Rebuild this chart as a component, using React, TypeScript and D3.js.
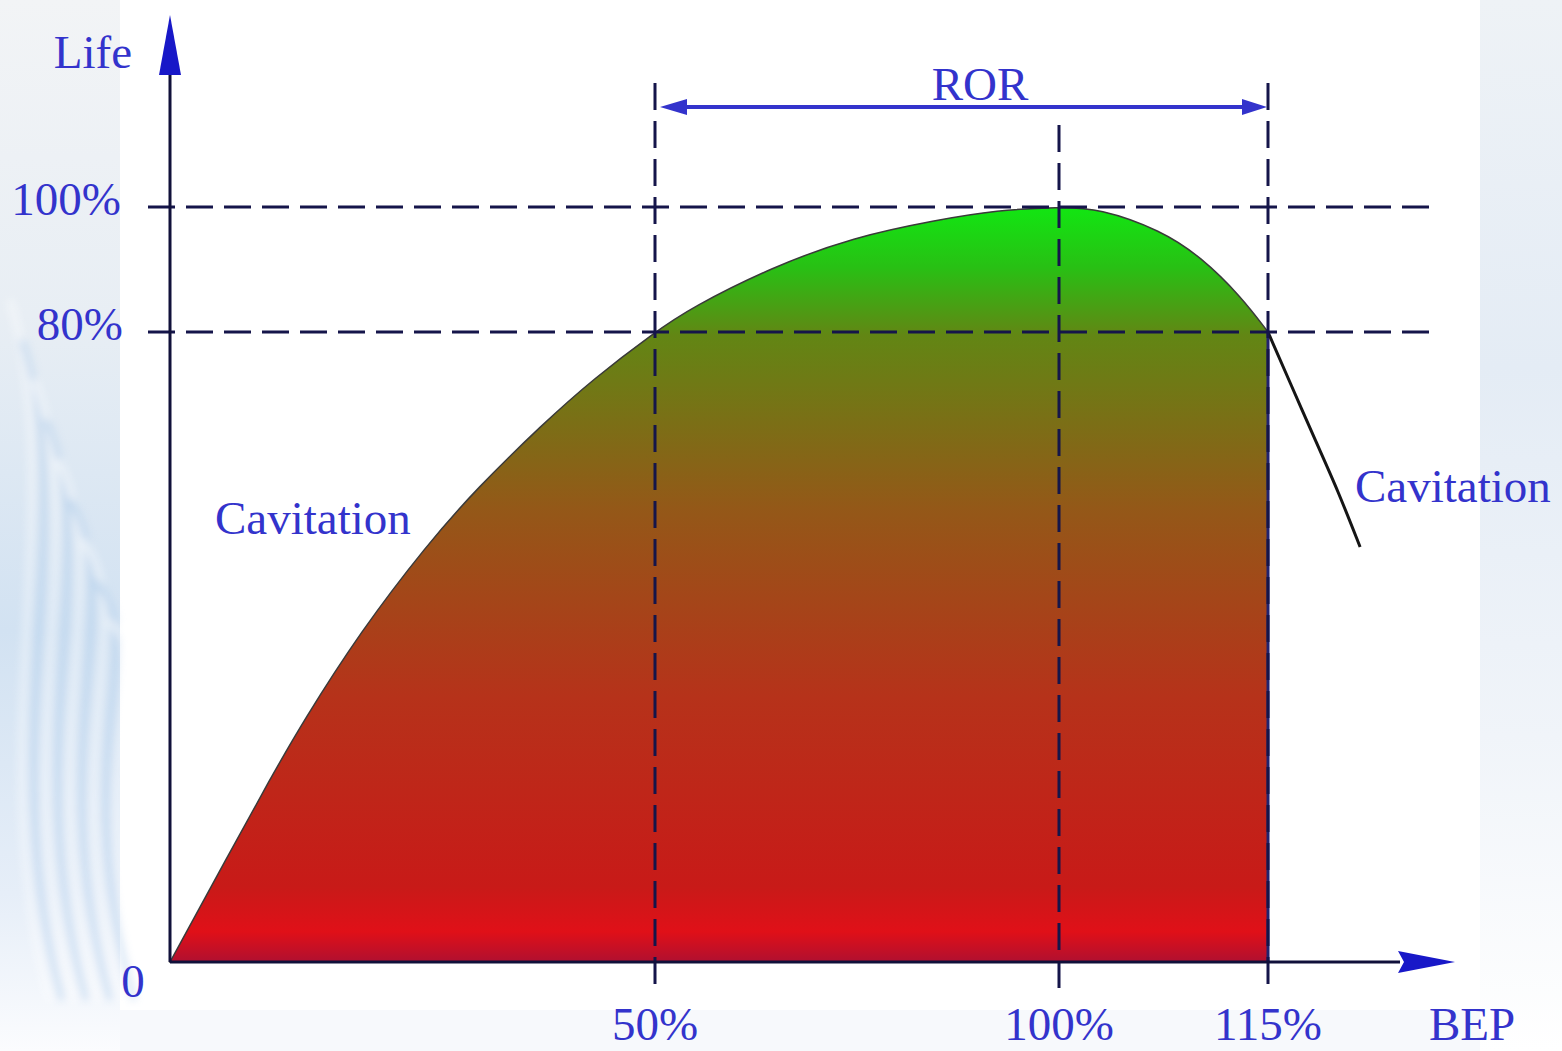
import * as d3 from 'd3'

// curve: BEP (%) vs life (%)
const BEP = [0, 5.9, 10.3, 13.7, 19.6, 26.5, 31.6, 38.5, 43.6, 50, 54.5, 64.5, 74.6, 84.8, 92.3, 100, 102.9, 107.3, 110.2, 113.1, 115]
const LIFE = [0, 13.3, 23.2, 30.5, 41.9, 53.0, 60.1, 68.4, 74.0, 80, 83.9, 90.4, 95.2, 97.9, 99.5, 100, 99.8, 96.3, 92.0, 85.6, 80]
// beyond 115% the curve keeps falling, drawn as a line only
const TAIL_BEP = [115, 116.6, 118.5, 120.0, 121.6]
const TAIL_LIFE = [80, 73.5, 65.8, 59.9, 52.7]

const X_TICKS = [50, 100, 115]
const X_TICK_LABELS = ['50%', '100%', '115%']
const Y_TICKS = [80, 100]
const Y_TICK_LABELS = ['80%', '100%']
const ROR_RANGE = [50, 115]

const W = 1562
const H = 1051
const BLUE = '#3333cc'
const NAVY = '#15154a'
const FONT = '"Liberation Serif", "Times New Roman", serif'

export default function App() {
  // the original axis is not evenly spaced, so both scales are piecewise
  const x = d3.scaleLinear().domain([0, 50, 100, 115, 128.4]).range([170, 655, 1059, 1268, 1455])
  const y = d3.scaleLinear().domain([0, 80, 100, 130.7]).range([962, 332, 207, 15])

  const pts = BEP.map((b, i) => [b, LIFE[i]] as [number, number])
  const tail = TAIL_BEP.map((b, i) => [b, TAIL_LIFE[i]] as [number, number])

  const area = d3
    .area<[number, number]>()
    .x((d) => x(d[0]))
    .y0(y(0))
    .y1((d) => y(d[1]))
    .curve(d3.curveBasis)
  const line = d3
    .line<[number, number]>()
    .x((d) => x(d[0]))
    .y((d) => y(d[1]))
    .curve(d3.curveBasis)

  const x0 = x(0)
  const y0 = y(0)
  const xEnd = x(115)

  const gradStops = [
    [0, '#12e612'],
    [0.08, '#28c014'],
    [0.17, '#628614'],
    [0.4, '#945818'],
    [0.65, '#b6321a'],
    [0.9, '#c81a18'],
    [0.96, '#e01018'],
    [1, '#b01030']
  ]

  // soft wisps for the slide background
  const wisps = d3.range(9).map((i) => {
    const xo = 10 + i * 12
    return `M${xo},${300 + i * 40} C${xo + 60},${500 + i * 20} ${xo - 30},${750} ${xo + 40},${1000}`
  })

  return (
    <svg width={W} height={H} style={{ position: 'absolute', left: 0, top: 0, display: 'block' }}>
      <defs>
        <linearGradient id="fillGrad" gradientUnits="userSpaceOnUse" x1={0} y1={y(100)} x2={0} y2={y0}>
          {gradStops.map(([o, c]) => (
            <stop key={o as number} offset={o as number} stopColor={c as string} />
          ))}
        </linearGradient>
        <linearGradient id="bgLeft" x1="0" y1="0" x2="0" y2="1">
          <stop offset="0" stopColor="#f2f4f6" />
          <stop offset="0.3" stopColor="#e8eef4" />
          <stop offset="0.6" stopColor="#d2e2f2" />
          <stop offset="0.85" stopColor="#e6eef8" />
          <stop offset="1" stopColor="#fbfcfe" />
        </linearGradient>
        <linearGradient id="bgRight" x1="0" y1="0" x2="0" y2="1">
          <stop offset="0" stopColor="#eef2f6" />
          <stop offset="0.35" stopColor="#e4ecf5" />
          <stop offset="0.7" stopColor="#f0f4f9" />
          <stop offset="1" stopColor="#ffffff" />
        </linearGradient>
        <filter id="blur" x="-50%" y="-50%" width="200%" height="200%">
          <feGaussianBlur stdDeviation="4" />
        </filter>
      </defs>

      {/* slide background */}
      <rect width={W} height={H} fill="#ffffff" />
      <rect x={0} y={0} width={120} height={H} fill="url(#bgLeft)" />
      <g filter="url(#blur)" opacity={0.5}>
        {wisps.map((d, i) => (
          <path key={i} d={d} fill="none" stroke={i % 2 ? '#a9c9ea' : '#ffffff'} strokeWidth={6} />
        ))}
      </g>
      <rect x={1480} y={0} width={W - 1480} height={H} fill="url(#bgRight)" />
      <rect x={120} y={1010} width={1360} height={41} fill="#f4f7fb" opacity={0.7} />

      {/* filled region up to 115% */}
      <path d={area(pts) as string} fill="url(#fillGrad)" stroke="#3a3a3a" strokeWidth={1.5} />
      <line x1={xEnd} x2={xEnd} y1={y(80)} y2={y0} stroke="#22226e" strokeWidth={3} />
      <path d={line(tail) as string} fill="none" stroke="#151515" strokeWidth={3} />

      {/* reference lines */}
      {Y_TICKS.map((t) => (
        <line
          key={t}
          x1={148}
          x2={1440}
          y1={y(t)}
          y2={y(t)}
          stroke={NAVY}
          strokeWidth={3}
          strokeDasharray="27 11"
        />
      ))}
      {X_TICKS.map((t) => (
        <line
          key={t}
          x1={x(t)}
          x2={x(t)}
          y1={t === 100 ? 125 : 83}
          y2={990}
          stroke={NAVY}
          strokeWidth={3}
          strokeDasharray="27 11"
        />
      ))}

      {/* axes */}
      <line x1={x0} x2={x0} y1={y0} y2={70} stroke="#10103a" strokeWidth={3} />
      <path d={`M${x0},${y(130.7)} L${x0 + 11},75 L${x0 - 11},75 Z`} fill="#1818c8" />
      <line x1={x0} x2={1400} y1={y0} y2={y0} stroke="#10103a" strokeWidth={3} />
      <path d={`M${x(128.4)},${y0} L1398,${y0 - 11} L1404,${y0} L1398,${y0 + 11} Z`} fill="#1818c8" />

      {/* ROR span */}
      <line x1={x(ROR_RANGE[0]) + 20} x2={x(ROR_RANGE[1]) - 20} y1={107} y2={107} stroke={BLUE} strokeWidth={4} />
      <path d={`M${x(ROR_RANGE[0]) + 5},107 L${x(ROR_RANGE[0]) + 32},99 L${x(ROR_RANGE[0]) + 32},115 Z`} fill={BLUE} />
      <path d={`M${x(ROR_RANGE[1]) - 1},107 L${x(ROR_RANGE[1]) - 26},99 L${x(ROR_RANGE[1]) - 26},115 Z`} fill={BLUE} />

      {/* text */}
      <g fontFamily={FONT} fontSize={47} fill={BLUE}>
        <text x={980} y={100} textAnchor="middle">ROR</text>
        <text x={132} y={68} textAnchor="end">Life</text>
        {Y_TICKS.map((t, i) => (
          <text key={t} x={t === 100 ? 121 : 123} y={y(t) + 8} textAnchor="end">
            {Y_TICK_LABELS[i]}
          </text>
        ))}
        <text x={133} y={997} textAnchor="middle">0</text>
        {X_TICKS.map((t, i) => (
          <text key={t} x={x(t)} y={1040} textAnchor="middle">
            {X_TICK_LABELS[i]}
          </text>
        ))}
        <text x={1472} y={1040} textAnchor="middle">BEP</text>
        <text x={215} y={534}>Cavitation</text>
        <text x={1355} y={502}>Cavitation</text>
      </g>
    </svg>
  )
}
